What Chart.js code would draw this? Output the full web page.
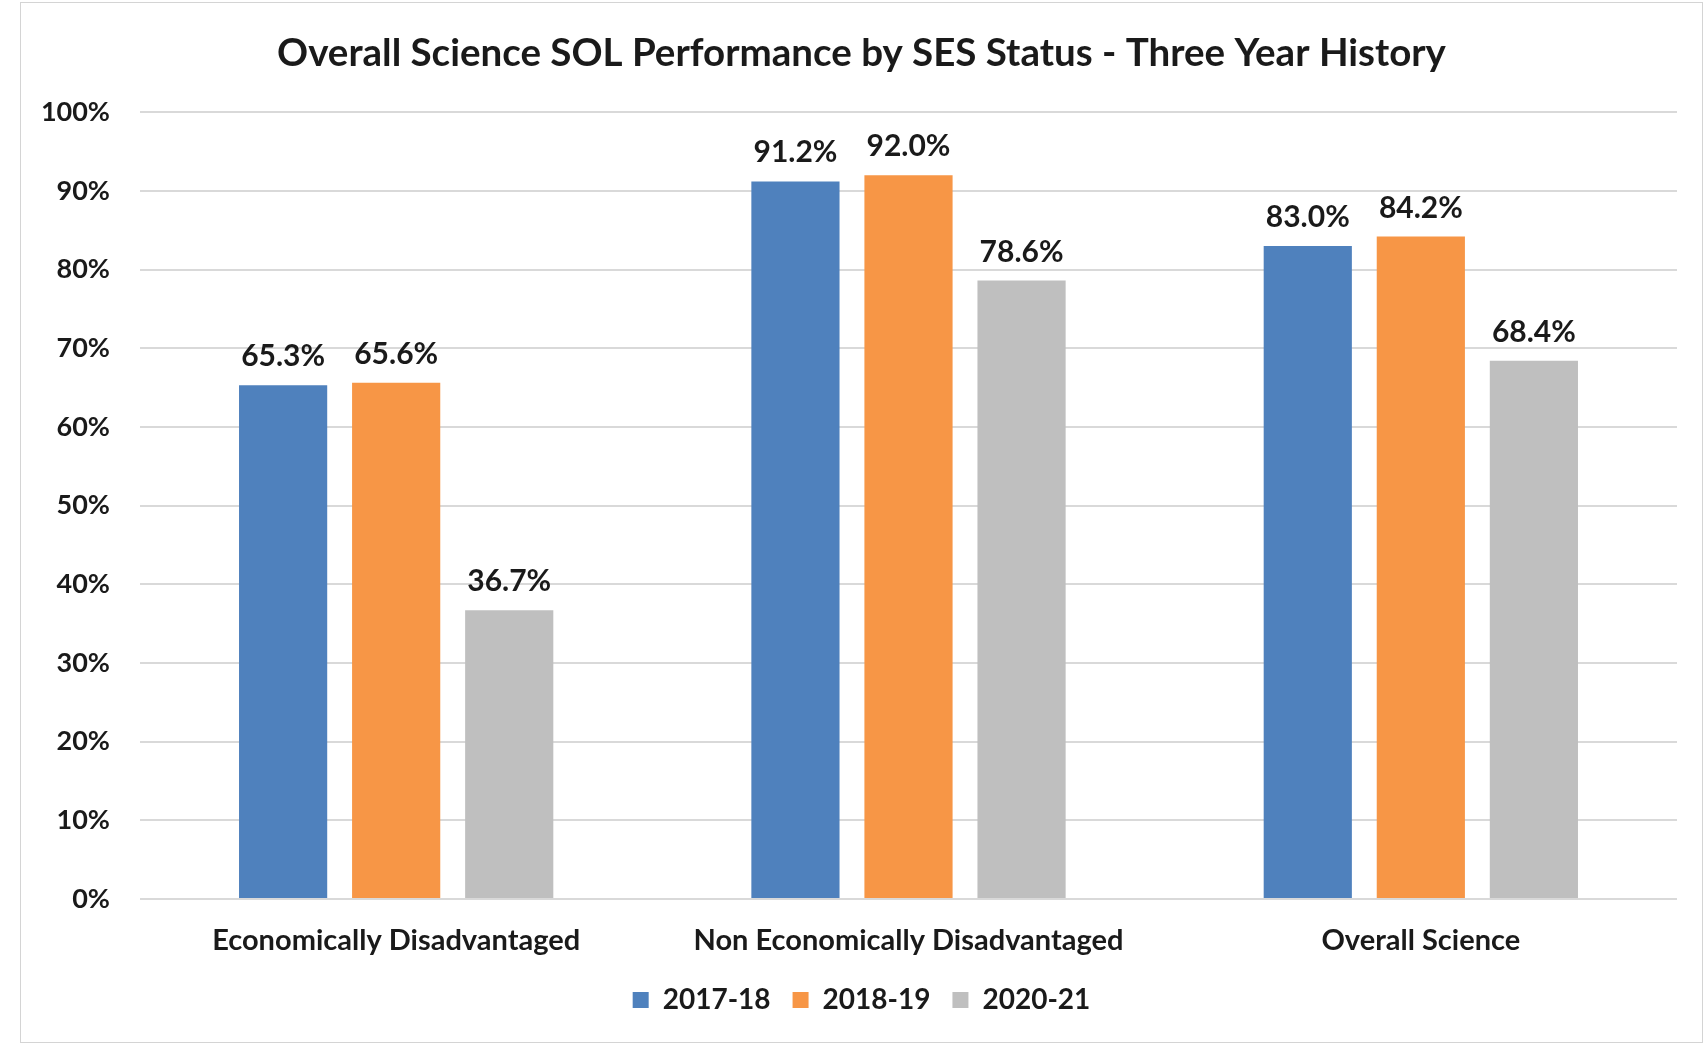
<!DOCTYPE html>
<html>
<head>
<meta charset="utf-8">
<title>Overall Science SOL Performance by SES Status</title>
<script src="https://cdn.jsdelivr.net/npm/chart.js@4.4.1/dist/chart.umd.min.js"></script>
<style>
    html, body { margin: 0; padding: 0; background: #fff; }
    #wrap {
        position: absolute;
        left: 20px; top: 2px;
        width: 1681px; height: 1039px;
        border: 1px solid #d4d4d4;
        background: #fff;
    }
</style>
</head>
<body>
<div id="wrap"><canvas id="scienceChart"></canvas></div>
<script>
var groups = ['Economically Disadvantaged', 'Non Economically Disadvantaged', 'Overall Science'];
var years = ['2017-18', '2018-19', '2020-21'];
var pass1718 = [65.3, 91.2, 83.0];
var pass1819 = [65.6, 92.0, 84.2];
var pass2021 = [36.7, 78.6, 68.4];
var yTicks = [0, 10, 20, 30, 40, 50, 60, 70, 80, 90, 100];

var fontFamily = 'Lato, "Open Sans", sans-serif';
var textColor = '#1a1a1a';

// value labels above every bar
var barLabels = {
    id: 'barLabels',
    afterDatasetsDraw: function(chart) {
        var ctx = chart.ctx;
        ctx.save();
        ctx.font = 'bold 30px ' + fontFamily;
        ctx.fillStyle = textColor;
        ctx.textAlign = 'center';
        ctx.textBaseline = 'alphabetic';
        chart.data.datasets.forEach(function(ds, i) {
            chart.getDatasetMeta(i).data.forEach(function(bar, j) {
                ctx.fillText(ds.data[j].toFixed(1) + '%', bar.x, bar.y - 19);
            });
        });
        ctx.restore();
    }
};

document.addEventListener('DOMContentLoaded', function() {
    var ctx = document.getElementById('scienceChart').getContext('2d');
    var scienceChart = new Chart(ctx, {
        type: 'bar',
        data: {
            labels: groups,
            datasets: [{
                label: years[0],
                data: pass1718,
                backgroundColor: '#4f81bd'
            }, {
                label: years[1],
                data: pass1819,
                backgroundColor: '#f79646'
            }, {
                label: years[2],
                data: pass2021,
                backgroundColor: '#bfbfbf'
            }]
        },
        options: {
            responsive: true,
            maintainAspectRatio: false,
            animation: false,
            categoryPercentage: 0.662,
            barPercentage: 0.78,
            layout: {
                padding: { left: 0, right: 0, top: 0, bottom: 18 }
            },
            scales: {
                x: {
                    afterFit: function(scale) { scale.height = 65; },
                    grid: { display: false, drawTicks: false },
                    border: { display: false },
                    ticks: {
                        padding: 24,
                        color: textColor,
                        font: { family: fontFamily, size: 29, weight: 'bold' }
                    }
                },
                y: {
                    min: 0,
                    max: 100,
                    afterFit: function(scale) { scale.width = 119; },
                    afterBuildTicks: function(scale) {
                        scale.ticks = yTicks.map(function(v) { return { value: v }; });
                    },
                    grid: { color: '#d9d9d9', lineWidth: 2, drawTicks: false },
                    border: { display: false },
                    ticks: {
                        padding: 30,
                        color: textColor,
                        font: { family: fontFamily, size: 27, weight: 'bold' },
                        callback: function(v) { return v + '%'; }
                    }
                },
                // empty strip on the right so the plot stops short of the frame
                // while title and legend stay centred on the whole box
                yRight: {
                    position: 'right',
                    min: 0,
                    max: 100,
                    afterFit: function(scale) { scale.width = 25; },
                    grid: { display: false, drawTicks: false },
                    border: { display: false },
                    ticks: { display: false }
                }
            },
            plugins: {
                title: {
                    display: true,
                    text: 'Overall Science SOL Performance by SES Status - Three Year History',
                    color: textColor,
                    font: { family: fontFamily, size: 38.5, weight: 'bold' },
                    padding: { top: 27, bottom: 36 }
                },
                legend: {
                    position: 'bottom',
                    labels: {
                        boxWidth: 16,
                        boxHeight: 16,
                        padding: 22,
                        color: textColor,
                        font: { family: fontFamily, size: 28, weight: 'bold' }
                    }
                },
                tooltip: { enabled: false }
            }
        },
        plugins: [barLabels]
    });
});
</script>
</body>
</html>
